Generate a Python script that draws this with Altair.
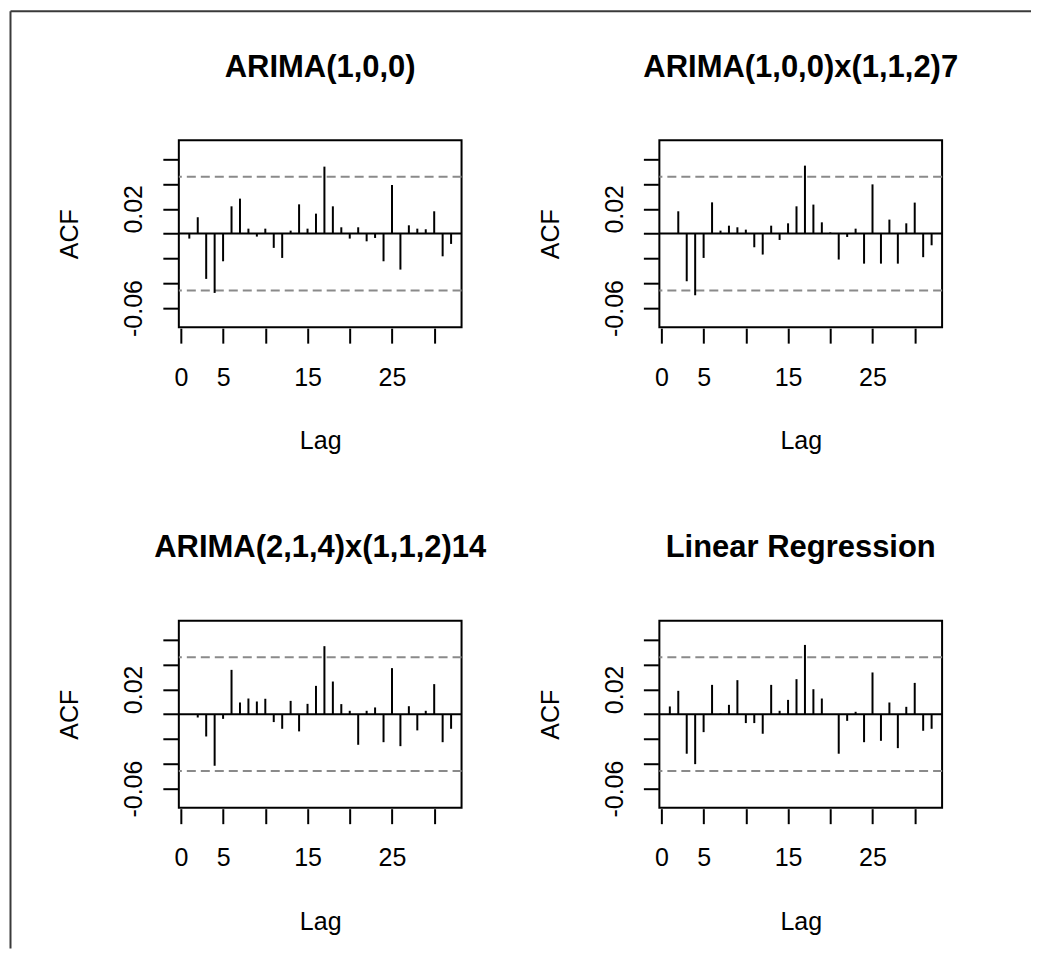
import altair as alt
import pandas as pd

# ---- data ----
lags = list(range(1, 33))
titles = ["ARIMA(1,0,0)", "ARIMA(1,0,0)x(1,1,2)7", "ARIMA(2,1,4)x(1,1,2)14", "Linear Regression"]

acf_arima100 = [-0.0040, 0.0132, -0.0365, -0.0478, -0.0223, 0.0220, 0.0282, 0.0040, -0.0024, 0.0040,
                -0.0115, -0.0196, 0.0024, 0.0236, 0.0040, 0.0161, 0.0540, 0.0220, 0.0051, -0.0040,
                0.0051, -0.0062, -0.0035, -0.0223, 0.0392, -0.0290, 0.0067, 0.0040, 0.0035, 0.0180,
                -0.0183, -0.0083]
acf_sarima7 = [0.0005, 0.0180, -0.0384, -0.0497, -0.0196, 0.0252, 0.0024, 0.0064, 0.0051, 0.0032,
               -0.0110, -0.0169, 0.0064, -0.0051, 0.0083, 0.0220, 0.0548, 0.0234, 0.0091, 0.0010,
               -0.0209, -0.0027, 0.0040, -0.0242, 0.0397, -0.0242, 0.0113, -0.0242, 0.0083, 0.0250,
               -0.0190, -0.0094]
acf_sarima14 = [-0.0005, -0.0027, -0.0180, -0.0416, -0.0038, 0.0357, 0.0094, 0.0126, 0.0102, 0.0124,
                -0.0064, -0.0118, 0.0107, -0.0139, 0.0083, 0.0228, 0.0548, 0.0263, 0.0081, 0.0027,
                -0.0247, 0.0027, 0.0054, -0.0226, 0.0371, -0.0258, 0.0064, -0.0131, 0.0027, 0.0242,
                -0.0226, -0.0118]
acf_linreg = [0.0062, 0.0188, -0.0319, -0.0403, -0.0145, 0.0236, 0.0005, 0.0075, 0.0274, -0.0072,
              -0.0072, -0.0158, 0.0236, 0.0027, 0.0115, 0.0282, 0.0558, 0.0201, 0.0126, 0.0000,
              -0.0319, -0.0054, 0.0019, -0.0226, 0.0336, -0.0215, 0.0094, -0.0274, 0.0059, 0.0252,
              -0.0134, -0.0118]
series = [acf_arima100, acf_sarima7, acf_sarima14, acf_linreg]

ci_limit = 0.0458
x_ticks = [0, 5, 10, 15, 20, 25, 30]
x_labeled = [0, 5, 15, 25]
y_ticks = [-0.06, -0.04, -0.02, 0.0, 0.02, 0.04, 0.06]
y_labeled = [-0.06, 0.02]

# ---- styling ----
FONT = "Liberation Sans"
W, H = 283, 187
x_dom = [-0.24, 33.24]
y_dom = [-0.0754, 0.0752]

x_expr = "indexof(%s, datum.value) >= 0 ? datum.label : ''" % str(x_labeled)
y_cond = " || ".join("abs(datum.value - (%s)) < 1e-9" % v for v in y_labeled)
y_expr = "(%s) ? replace(format(datum.value, '.2f'), '\u2212', '-') : ''" % y_cond

common_axis = dict(domain=False, grid=False, tickSize=15, tickWidth=2, tickColor="black",
                   offset=1, labelFont=FONT, labelFontSize=25, labelColor="black",
                   titleFont=FONT, titleFontSize=25, titleFontWeight="normal", titleColor="black",
                   labelOverlap=False, labelFlush=False)

xaxis = alt.Axis(values=x_ticks, labelExpr=x_expr, labelAngle=0, labelAlign="center",
                 labelBaseline="alphabetic", labelPadding=42, titleBaseline="alphabetic",
                 titleAlign="center", titleX=W / 2, titleY=120.5, **common_axis)
yaxis = alt.Axis(values=y_ticks, labelExpr=y_expr, labelAngle=270, labelAlign="center",
                 labelBaseline="alphabetic", labelPadding=21, titleAngle=270,
                 titleBaseline="alphabetic", titleAlign="center", titleX=-100, titleY=H / 2,
                 **common_axis)

xscale = alt.Scale(domain=x_dom, nice=False, zero=False)
yscale = alt.Scale(domain=y_dom, nice=False, zero=False)


def panel(title, values, with_frame=False):
    df = pd.DataFrame({"lag": lags, "acf": values, "base": [0.0] * len(lags)})
    bars = alt.Chart(df).mark_rule(color="black", strokeWidth=2).encode(
        x=alt.X("lag:Q", scale=xscale, axis=xaxis, title="Lag"),
        y=alt.Y("acf:Q", scale=yscale, axis=yaxis, title="ACF"),
        y2="base:Q",
    )
    zero = alt.Chart(pd.DataFrame({"z": [0.0]})).mark_rule(color="black", strokeWidth=2).encode(
        y=alt.Y("z:Q", scale=yscale, axis=yaxis, title="ACF")
    )
    ci = alt.Chart(pd.DataFrame({"ci": [ci_limit, -ci_limit]})).mark_rule(
        color="#8a8a8a", strokeWidth=2, strokeDash=[9, 5]
    ).encode(y=alt.Y("ci:Q", scale=yscale, axis=yaxis, title="ACF"))
    ttl = alt.Chart(pd.DataFrame({"t": [title]})).mark_text(
        font=FONT, fontSize=31, fontWeight="bold", color="black",
        align="center", baseline="alphabetic"
    ).encode(text="t:N", x=alt.value(W / 2), y=alt.value(-63.5))
    layers = [ci, zero, bars, ttl]
    if with_frame:
        fdf = pd.DataFrame({"f": [0]})
        top = alt.Chart(fdf).mark_rule(color="#3a3a3a", strokeWidth=2, strokeCap="butt").encode(
            x=alt.value(-168.5), x2=alt.value(853), y=alt.value(-129.3))
        left = alt.Chart(fdf).mark_rule(color="#3a3a3a", strokeWidth=2, strokeCap="butt").encode(
            x=alt.value(-168.5), y=alt.value(-129.3), y2=alt.value(809))
        layers += [top, left]
    return alt.layer(*layers).properties(width=W, height=H)


panels = [panel(t, v, with_frame=(i == 0)) for i, (t, v) in enumerate(zip(titles, series))]

chart = alt.concat(
    *panels, columns=2, bounds="flush",
    spacing=alt.RowColnumber(row=294, column=198),
).properties(padding=0, background="white").configure_view(stroke="black", strokeWidth=2)

chart.save("out.html", embed_options={"renderer": "svg", "actions": False})
